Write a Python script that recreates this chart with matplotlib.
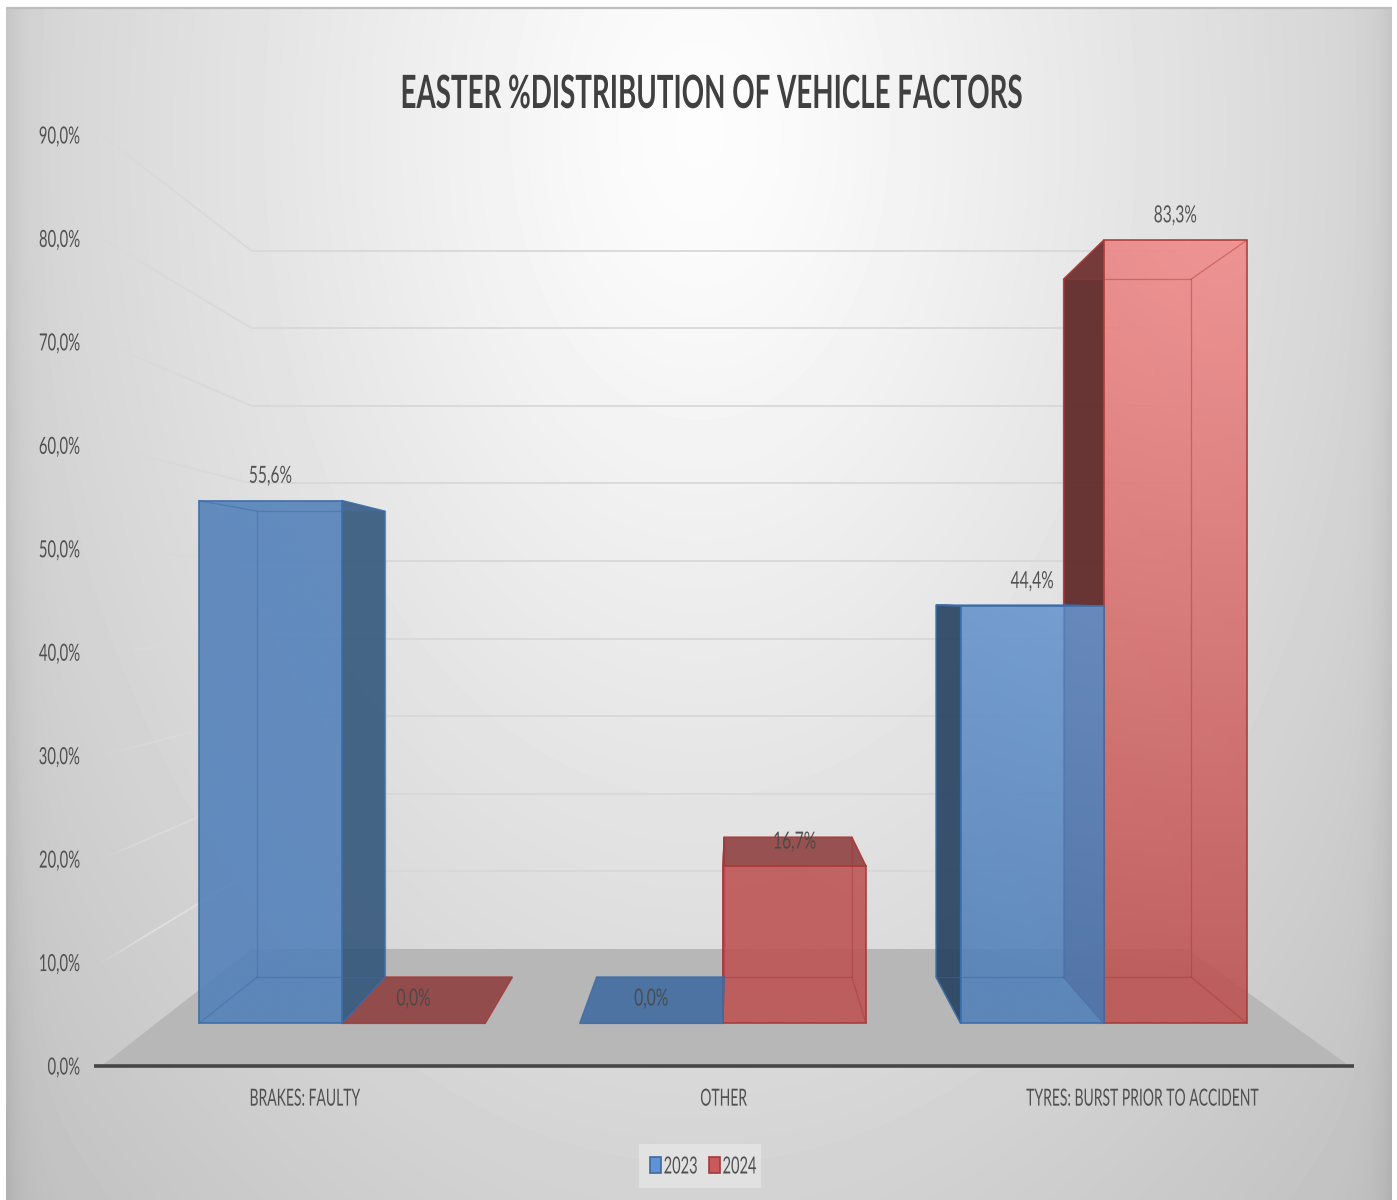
import numpy as np
import matplotlib
matplotlib.use("Agg")
import matplotlib.pyplot as plt
from matplotlib.patches import Polygon, Patch, Rectangle
from matplotlib.collections import LineCollection
from matplotlib.patheffects import AbstractPathEffect
from matplotlib.transforms import Affine2D

# ---------- data ----------
categories = ["BRAKES: FAULTY", "OTHER", "TYRES: BURST PRIOR TO ACCIDENT"]
series_names = ["2023", "2024"]
values_2023 = [55.6, 0.0, 44.4]
values_2024 = [0.0, 16.7, 83.3]
y_ticks = [0, 10, 20, 30, 40, 50, 60, 70, 80, 90]
title = "EASTER %DISTRIBUTION OF VEHICLE FACTORS"

W, H = 1397, 1200
plt.rcParams["font.family"] = ["Lato", "DejaVu Sans"]


class Squeeze(AbstractPathEffect):
    """Condense text horizontally (the reference is a horizontally squashed picture)."""
    def __init__(self, sx, anchor="center", dx=0):
        super().__init__()
        self.sx, self.anchor, self.dx = sx, anchor, dx

    def draw_path(self, renderer, gc, tpath, affine, rgbFace=None):
        bb = tpath.get_extents(affine)
        cx = {"left": bb.x0, "right": bb.x1}.get(self.anchor, (bb.x0 + bb.x1) / 2)
        aff = affine + Affine2D().translate(-cx, 0).scale(self.sx, 1).translate(cx + self.dx, 0)
        renderer.draw_path(gc, tpath, aff, rgbFace)


fig = plt.figure(figsize=(W / 100, H / 100), dpi=100, facecolor="white")

# ---------- background panel ----------
bg = fig.add_axes([0, 0, 1, 1], zorder=0)
bg.set_axis_off()
bg.set_xlim(0, W)
bg.set_ylim(H, 0)
yy, xx = np.mgrid[7:1200:300j, 6:1392:400j]
d = np.sqrt(((xx - 700) / 700) ** 2 + ((yy - 130) / 1070) ** 2 + 0.015)
grey = 258 - 47 * d
edge = np.minimum(xx - 6, 1392 - xx)
grey -= 14 * np.exp(-edge / 14)
grey = np.clip(grey, 0, 255) / 255
bg.imshow(grey, extent=(6, 1392, 1200, 7), cmap="gray", vmin=0, vmax=1, aspect="auto",
          interpolation="bilinear")
bg.set_xlim(0, W)
bg.set_ylim(H, 0)
bg.plot([6, 1392], [7.5, 7.5], color="#bdbdbd", lw=1.6, solid_capstyle="butt")

# ---------- main axes: the front plane of the 3-D box ----------
ax = fig.add_axes([96.5 / W, 1 - 1066 / H, 1257 / W, 931 / H], zorder=1)
ax.patch.set_alpha(0)
ax.set_xlim(-0.5, 2.5)
ax.set_ylim(0, 90)
for s in ["top", "left", "right"]:
    ax.spines[s].set_visible(False)
ax.spines["bottom"].set_linewidth(2.6)
ax.spines["bottom"].set_color("#464646")
ax.spines["bottom"].set_capstyle("butt")
ax.spines["bottom"].set_bounds(-0.506, 2.5)
ax.set_xticks(range(len(categories)))
ax.set_xticklabels(categories)
ax.set_yticks(y_ticks)
ax.set_yticklabels([f"{v:.1f}%".replace(".", ",") for v in y_ticks])
ax.tick_params(axis="x", length=0, pad=16.3, labelsize=17, labelcolor="#505050")
ax.tick_params(axis="y", length=0, pad=11.5, labelsize=17, labelcolor="#505050")
for t in ax.get_xticklabels():
    t.set_path_effects([Squeeze(0.59, dx=-1.5)])
for t in ax.get_yticklabels():
    t.set_path_effects([Squeeze(0.63, anchor="right")])

# perspective: every point scales toward a vanishing point by a depth factor
VX, VV = 0.945, 45.25
VX_BAR = 1.024
S_WALL, S_FRONT, BACK_RATIO = 0.75, 0.909, 0.891
BAR_W = 0.376


def proj(x, v, s):
    return (VX + (x - VX) * s, VV + (v - VV) * s)


def fb(x, v):
    return proj(x, v, S_FRONT)


def bk(x, v):
    fx, fv = fb(x, v)
    return (VX_BAR + (fx - VX_BAR) * BACK_RATIO, VV + (fv - VV) * BACK_RATIO)


# floor
x0, x1 = -0.488, 2.49
ax.add_patch(Polygon([proj(x0, 0, 1), proj(x1, 0, 1), proj(x1, 0, S_WALL), proj(x0, 0, S_WALL)],
                     closed=True, fc="#b7b7b7", ec="none", zorder=1))

# gridlines: back wall and fading left side wall
for v in y_ticks[1:]:
    ax.plot(*zip(proj(x0, v, S_WALL), proj(x1, v, S_WALL)), color="#d8d8d8", lw=1.3, zorder=1.2,
            solid_capstyle="butt")
    ss = np.linspace(1, S_WALL, 25)
    pts = np.array([proj(x0, v, q) for q in ss])
    segs = np.stack([pts[:-1], pts[1:]], axis=1)
    al = np.clip(np.linspace(0.1, 3.0, len(segs)), 0, 1)
    cols = np.zeros((len(segs), 4))
    cols[:, :3] = {10: 0.88, 20: 0.86, 30: 0.85}.get(v, 0.85)
    cols[:, 3] = al
    ax.add_collection(LineCollection(segs, colors=cols, linewidths=1.3, zorder=1.2))

# ---------- bars ----------
ALPHA = 0.86
STYLE = {
    "2023": dict(low=(82, 128, 186), high=(130, 175, 232), edge="#3d6da6",
                 side_r="#2f5379", side_l="#233f5e", top="#3f6a9f", hidden="#4a78b0"),
    "2024": dict(low=(190, 82, 82), high=(245, 142, 142), edge="#a93a3a",
                 side_r="#8f3b3b", side_l="#581f1f", top="#8c3d3d", hidden="#b84f4f"),
}
gy, gx = np.mgrid[90:0:300j, -0.5:2.5:300j]
light = np.sqrt(((gx - 2.19) * 419) ** 2 + ((gy - 83.3) * 10.34) ** 2)
tt = np.clip(1 - light / 800, 0, 1)


def front_image(st):
    lo, hi = np.array(st["low"]) / 255, np.array(st["high"]) / 255
    rgba = np.zeros(tt.shape + (4,))
    rgba[..., :3] = lo + tt[..., None] * (hi - lo)
    rgba[..., 3] = ALPHA
    return rgba


def draw_bar(x_left, x_right, v, st, z):
    centre_right_of_vp = (x_left + x_right) / 2 > VX
    e = dict(ec=st["edge"], lw=1.0)
    hid = dict(fc=st["hidden"], alpha=0.16, ec=st["edge"], lw=0.9)

    # back and bottom faces (seen through the front)
    ax.add_patch(Polygon([bk(x_left, 0), bk(x_right, 0), bk(x_right, v), bk(x_left, v)], zorder=z, **hid))
    ax.add_patch(Polygon([fb(x_left, 0), fb(x_right, 0), bk(x_right, 0), bk(x_left, 0)], zorder=z, **hid))

    left = [fb(x_left, 0), bk(x_left, 0), bk(x_left, v), fb(x_left, v)]
    right = [fb(x_right, 0), bk(x_right, 0), bk(x_right, v), fb(x_right, v)]
    top = [fb(x_left, v), fb(x_right, v), bk(x_right, v), bk(x_left, v)]

    if v > 0:
        if centre_right_of_vp:
            ax.add_patch(Polygon(right, zorder=z + 0.1, **hid))
            ax.add_patch(Polygon(left, zorder=z + 0.1, fc=st["side_l"], alpha=0.88, **e))
        else:
            ax.add_patch(Polygon(left, zorder=z + 0.1, **hid))
            ax.add_patch(Polygon(right, zorder=z + 0.1, fc=st["side_r"], alpha=0.86, **e))
    if v < VV:
        ax.add_patch(Polygon(top, zorder=z + 0.2, fc=st["top"], alpha=0.86, **e))
    else:
        ax.add_patch(Polygon(top, zorder=z + 0.2, fc=st["hidden"], alpha=0.16, ec=st["edge"], lw=1.0))

    if v > 0:
        face = [fb(x_left, 0), fb(x_right, 0), fb(x_right, v), fb(x_left, v)]
        im = ax.imshow(front_image(st), extent=(-0.5, 2.5, 0, 90), aspect="auto",
                       interpolation="bilinear", zorder=z + 0.3)
        clip = Polygon(face, closed=True, transform=ax.transData)
        im.set_clip_path(clip)
        ax.add_patch(Polygon(face, fill=False, zorder=z + 0.4, ec=st["edge"], lw=1.1))
        # hidden edges showing through the translucent front
        edges = [[bk(x_left, 0), bk(x_right, 0), bk(x_right, v), bk(x_left, v), bk(x_left, 0)],
                 [fb(x_left, 0), bk(x_left, 0)], [fb(x_right, 0), bk(x_right, 0)],
                 [fb(x_left, v), bk(x_left, v)], [fb(x_right, v), bk(x_right, v)]]
        for path in edges:
            ax.plot(*zip(*path), color=st["edge"], lw=0.9, alpha=0.42, zorder=z + 0.35)


for idx, (name, vals) in reversed(list(enumerate(zip(series_names, (values_2023, values_2024))))):
    for i, v in enumerate(vals):
        xl = i - BAR_W if idx == 0 else i
        xr = xl + BAR_W
        draw_bar(xl, xr, v, STYLE[name], 3 + (1 - idx) * 2)

ax.set_xlim(-0.5, 2.5)
ax.set_ylim(0, 90)

# value labels
for idx, vals in enumerate((values_2023, values_2024)):
    for i, v in enumerate(vals):
        xl = i - BAR_W if idx == 0 else i
        px, pv = fb(xl + BAR_W / 2, v)
        t = ax.annotate(f"{v:.1f}%".replace(".", ","), (px, pv), xytext=(0, 17.5),
                        textcoords="offset points", ha="center", va="center",
                        fontsize=17, color="#484848", alpha=0.92, zorder=10, annotation_clip=False)
        t.set_path_effects([Squeeze(0.66)])

# title
fig.text(712 / W, 1 - 95 / H, title, ha="center", va="center", fontsize=33, fontweight="bold",
         color="#404040", path_effects=[Squeeze(0.605)], zorder=5)

# legend
bg.add_patch(Rectangle((639, 1144), 122, 44, fc="#ffffff", alpha=0.32, ec="none"))
handles = [Patch(fc="#5f93d3", ec="#3a6aa5", lw=1.2, label=series_names[0]),
           Patch(fc="#c9595a", ec="#a33a3a", lw=1.2, label=series_names[1])]
leg = fig.legend(handles=handles, ncol=2, frameon=False, fontsize=17,
                 loc="center left", bbox_to_anchor=(650 / W, 1 - 1167 / H), borderpad=0, borderaxespad=0,
                 handlelength=0.48, handleheight=0.68, handletextpad=0.08, columnspacing=-0.39,
                 labelcolor="#505050")
for t in leg.get_texts():
    t.set_path_effects([Squeeze(0.62, anchor="left")])

fig.savefig("out.png", dpi=100, facecolor="white")
